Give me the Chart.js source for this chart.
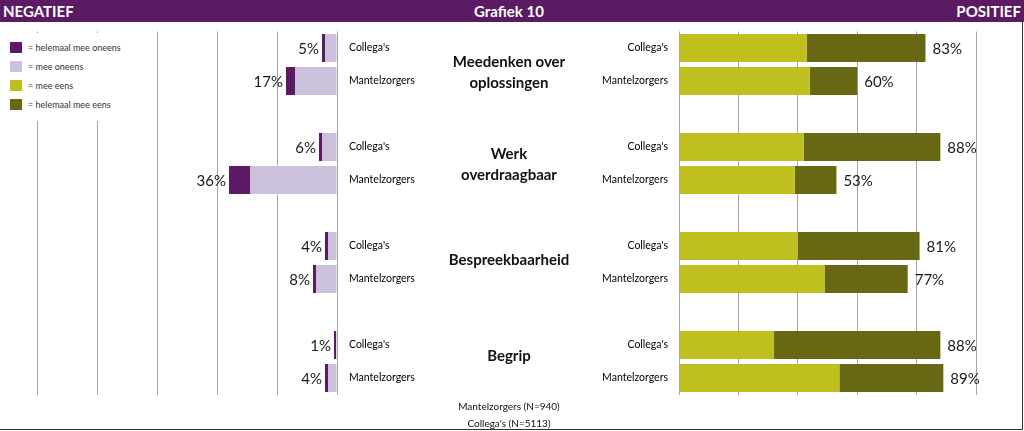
<!DOCTYPE html>
<html>
<head>
<meta charset="utf-8">
<script src="https://cdn.jsdelivr.net/npm/chart.js@4"></script>
<style>
  body { margin: 0; width: 1024px; height: 431px; position: relative; overflow: hidden; background: #fff; font-family: Lato, 'Open Sans', sans-serif; }
  .frame { position: absolute; left: 0; top: 0; width: 1022px; height: 429px; border-right: 1px solid #333; border-bottom: 1px solid #333; }
  .header { position: absolute; left: 0; top: 0; width: 1024px; height: 22px; background: #5b1a62; color: #fff; font-weight: bold; font-size: 15px; line-height: 22px; }
  .header span { position: absolute; top: 0; }
  .box { position: absolute; top: 0; height: 431px; }
  .legend { position: absolute; left: 0; top: 33px; width: 125px; height: 88px; background: #fff; z-index: 2; }
  .legend div { position: absolute; left: 10px; height: 12px; font-size: 9px; line-height: 12px; color: #333; white-space: nowrap; }
  .legend i { display: inline-block; width: 12px; height: 11px; vertical-align: top; margin-right: 6px; }
  .title { position: absolute; left: 420px; width: 178px; text-align: center; font-weight: bold; font-size: 15px; line-height: 21px; color: #111; }
  .foot { position: absolute; left: 420px; width: 178px; top: 398px; text-align: center; font-size: 10px; line-height: 17px; color: #111; }
</style>
</head>
<body>
<div class="frame"></div>
<div class="header">
  <span style="left:3px">NEGATIEF</span>
  <span style="left:420px;width:178px;text-align:center">Grafiek 10</span>
  <span style="right:3px">POSITIEF</span>
</div>
<div class="box" style="left:0;width:430px"><canvas id="negChart"></canvas></div>
<div class="box" style="left:560px;width:464px"><canvas id="posChart"></canvas></div>
<div class="legend" id="legend"></div>
<div id="titles"></div>
<div class="foot" id="foot"></div>

<script>
// Data
const groups = [['Meedenken over', 'oplossingen'], ['Werk', 'overdraagbaar'], ['Bespreekbaarheid'], ['Begrip']];
const respondents = ["Collega's", 'Mantelzorgers'];
const sampleSizes = ['Mantelzorgers (N=940)', "Collega's (N=5113)"];

// per bar: Collega's, Mantelzorgers for each group in order
const helemaalOneens = [1, 3, 1, 7, 1, 1, 0.7, 1];
const meeOneens = [4, 14, 5, 29, 3, 7, 0.3, 3];
const negTotals = [5, 17, 6, 36, 4, 8, 1, 4];
const meeEens = [43, 44, 42, 39, 40, 49, 32, 54];
const helemaalEens = [40, 16, 46, 14, 41, 28, 56, 35];
const posTotals = [83, 60, 88, 53, 81, 77, 88, 89];

const seriesNames = ['= helemaal mee oneens', '= mee oneens', '= mee eens', '= helemaal mee eens'];
const seriesColors = ['#5c1a64', '#ccc1da', '#bfbf1f', '#676714'];

// blank slot between the groups
function withSpacers(values) {
    const out = [];
    values.forEach((v, i) => {
        out.push(v);
        if (i % 2 === 1 && i < values.length - 1) out.push(null);
    });
    return out;
}

const labels = withSpacers(groups.flatMap(() => respondents)).map(l => l || '');

// Legend
const legend = document.getElementById('legend');
seriesNames.forEach((name, i) => {
    const row = document.createElement('div');
    row.style.top = (9 + i * 19) + 'px';
    row.innerHTML = '<i style="background:' + seriesColors[i] + '"></i>' + name;
    legend.appendChild(row);
});

// Group titles
const titleTops = [51, 143, 249, 345];
const titles = document.getElementById('titles');
groups.forEach((lines, i) => {
    const t = document.createElement('div');
    t.className = 'title';
    t.style.top = titleTops[i] + 'px';
    t.innerHTML = lines.join('<br>');
    titles.appendChild(t);
});

document.getElementById('foot').innerHTML = sampleSizes.join('<br>');

// Totals at bar ends
const totalsPlugin = {
    id: 'totals',
    afterDatasetsDraw(chart, args, opts) {
        const ctx = chart.ctx;
        const meta = chart.getDatasetMeta(chart.data.datasets.length - 1);
        ctx.save();
        ctx.font = '15px Lato';
        ctx.fillStyle = '#1a1a1a';
        ctx.textBaseline = 'middle';
        ctx.textAlign = opts.align;
        meta.data.forEach((bar, i) => {
            const v = opts.values[i];
            if (v == null) return;
            ctx.fillText(v + '%', bar.x + opts.offset, bar.y + 1);
        });
        ctx.restore();
    }
};

function makeChart(id, datasets, opts) {
    return new Chart(document.getElementById(id), {
        type: 'bar',
        data: { labels: labels, datasets: datasets },
        plugins: [totalsPlugin],
        options: {
            indexAxis: 'y',
            responsive: true,
            maintainAspectRatio: false,
            animation: false,
            layout: { padding: opts.padding },
            datasets: { bar: { barPercentage: 0.85, categoryPercentage: 1 } },
            plugins: {
                legend: { display: false },
                tooltip: { enabled: false },
                totals: { values: opts.totals, align: opts.align, offset: opts.offset }
            },
            scales: {
                x: {
                    stacked: true,
                    min: opts.min,
                    max: opts.max,
                    ticks: { display: false, stepSize: 20 },
                    grid: { color: '#a6a6a6', drawTicks: false },
                    border: { display: false },
                    afterFit: s => { s.height = 0; }
                },
                y: {
                    stacked: true,
                    position: opts.yPos,
                    grid: { display: false, drawTicks: false },
                    border: { display: false },
                    ticks: { autoSkip: false, padding: opts.tickPad, color: '#000', font: { family: 'Lato', size: 10.5 } },
                    afterFit: s => { s.width = opts.yWidth; }
                }
            }
        }
    });
}

makeChart('negChart', [
    { label: seriesNames[1], data: withSpacers(meeOneens.map(v => -v)), backgroundColor: seriesColors[1] },
    { label: seriesNames[0], data: withSpacers(helemaalOneens.map(v => -v)), backgroundColor: seriesColors[0] }
], { min: -100, max: 0, yPos: 'right', yWidth: 93, tickPad: 12, padding: { left: 37, right: 0, top: 31.5, bottom: 36.5 },
     totals: withSpacers(negTotals), align: 'right', offset: -3 });

makeChart('posChart', [
    { label: seriesNames[2], data: withSpacers(meeEens), backgroundColor: seriesColors[2] },
    { label: seriesNames[3], data: withSpacers(helemaalEens), backgroundColor: seriesColors[3] }
], { min: 0, max: 100, yPos: 'left', yWidth: 119, tickPad: 11, padding: { left: 0, right: 48, top: 31.5, bottom: 36.5 },
     totals: withSpacers(posTotals), align: 'left', offset: 7 });
</script>
</body>
</html>
